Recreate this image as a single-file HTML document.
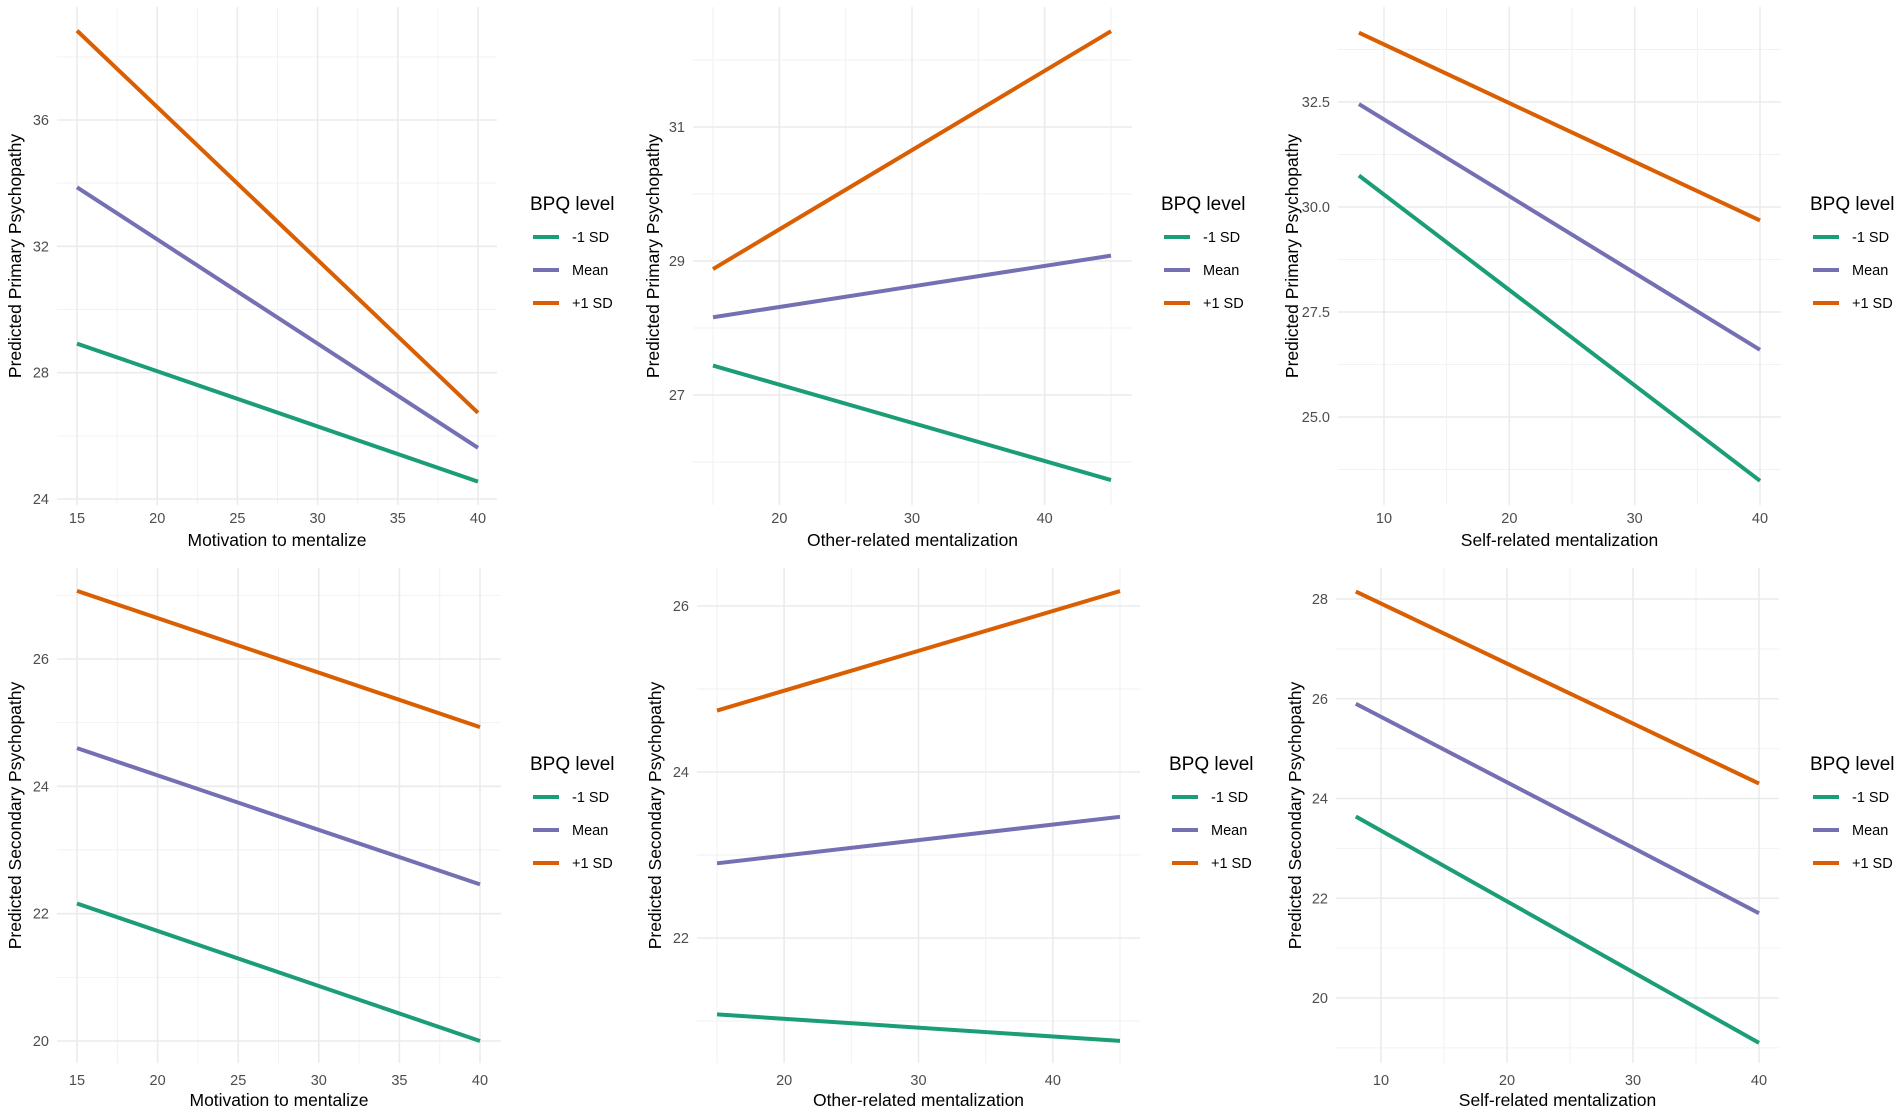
<!DOCTYPE html>
<html><head><meta charset="utf-8">
<style>
html,body{margin:0;padding:0;background:#fff;}
svg{display:block;font-family:"Liberation Sans",Arial,sans-serif;}
</style></head>
<body>
<svg id="chart" width="1902" height="1114" viewBox="0 0 1902 1114" xmlns="http://www.w3.org/2000/svg"></svg>
<script>
// ---- data ----
const seriesNames = ["-1 SD", "Mean", "+1 SD"];
const seriesColors = ["#1b9e77", "#7570b3", "#d95f02"];

const p1X = [15, 40];
const p1Low = [28.92, 24.55];
const p1Mean = [33.87, 25.62];
const p1High = [38.83, 26.73];
const p1XTicks = [15, 20, 25, 30, 35, 40];
const p1YTicks = [24, 28, 32, 36];
const p1YTickLabels = ["24", "28", "32", "36"];

const p2X = [15, 45];
const p2Low = [27.44, 25.73];
const p2Mean = [28.16, 29.08];
const p2High = [28.88, 32.43];
const p2XTicks = [20, 30, 40];
const p2YTicks = [27, 29, 31];
const p2YTickLabels = ["27", "29", "31"];

const p3X = [8, 40];
const p3Low = [30.75, 23.48];
const p3Mean = [32.45, 26.6];
const p3High = [34.15, 29.68];
const p3XTicks = [10, 20, 30, 40];
const p3YTicks = [25, 27.5, 30, 32.5];
const p3YTickLabels = ["25.0", "27.5", "30.0", "32.5"];

const p4X = [15, 40];
const p4Low = [22.16, 20.0];
const p4Mean = [24.6, 22.46];
const p4High = [27.07, 24.93];
const p4XTicks = [15, 20, 25, 30, 35, 40];
const p4YTicks = [20, 22, 24, 26];
const p4YTickLabels = ["20", "22", "24", "26"];

const p5X = [15, 45];
const p5Low = [21.08, 20.76];
const p5Mean = [22.9, 23.46];
const p5High = [24.74, 26.18];
const p5XTicks = [20, 30, 40];
const p5YTicks = [22, 24, 26];
const p5YTickLabels = ["22", "24", "26"];

const p6X = [8, 40];
const p6Low = [23.64, 19.1];
const p6Mean = [25.9, 21.7];
const p6High = [28.15, 24.3];
const p6XTicks = [10, 20, 30, 40];
const p6YTicks = [20, 22, 24, 26, 28];
const p6YTickLabels = ["20", "22", "24", "26", "28"];

// ---- layout ----
const NS = "http://www.w3.org/2000/svg";
const svg = document.getElementById("chart");
function mk(tag, attrs, parent) {
  const e = document.createElementNS(NS, tag);
  for (const k in attrs) e.setAttribute(k, attrs[k]);
  (parent || svg).appendChild(e);
  return e;
}
function linScale(d0, d1, r0, r1) { return v => r0 + (v - d0) * (r1 - r0) / (d1 - d0); }

const panels = [
  {id:"p1", X:p1X, S:[p1Low,p1Mean,p1High], xt:p1XTicks, yt:p1YTicks, ytl:p1YTickLabels,
   gx0:57, gx1:497, gy0:7, gy1:505, xs:[15,77,40,478], ys:[36,120,24,499],
   xtitle:"Motivation to mentalize", ytitle:"Predicted Primary Psychopathy", ytx:15, legx:530, legy:203, tly:518, tty:540},
  {id:"p2", X:p2X, S:[p2Low,p2Mean,p2High], xt:p2XTicks, yt:p2YTicks, ytl:p2YTickLabels,
   gx0:693, gx1:1132, gy0:7, gy1:505, xs:[15,713,45,1111], ys:[31,127,27,395],
   xtitle:"Other-related mentalization", ytitle:"Predicted Primary Psychopathy", ytx:653, legx:1161, legy:203, tly:518, tty:540},
  {id:"p3", X:p3X, S:[p3Low,p3Mean,p3High], xt:p3XTicks, yt:p3YTicks, ytl:p3YTickLabels,
   gx0:1338, gx1:1781, gy0:7, gy1:505, xs:[10,1384,40,1760], ys:[32.5,102,25,417],
   xtitle:"Self-related mentalization", ytitle:"Predicted Primary Psychopathy", ytx:1292, legx:1810, legy:203, tly:518, tty:540},
  {id:"p4", X:p4X, S:[p4Low,p4Mean,p4High], xt:p4XTicks, yt:p4YTicks, ytl:p4YTickLabels,
   gx0:57, gx1:501, gy0:568, gy1:1063, xs:[15,77,40,480], ys:[26,659,20,1041],
   xtitle:"Motivation to mentalize", ytitle:"Predicted Secondary Psychopathy", ytx:15, legx:530, legy:763, tly:1080, tty:1100},
  {id:"p5", X:p5X, S:[p5Low,p5Mean,p5High], xt:p5XTicks, yt:p5YTicks, ytl:p5YTickLabels,
   gx0:697, gx1:1140, gy0:568, gy1:1063, xs:[15,717,45,1120], ys:[26,606,22,938],
   xtitle:"Other-related mentalization", ytitle:"Predicted Secondary Psychopathy", ytx:655, legx:1169, legy:763, tly:1080, tty:1100},
  {id:"p6", X:p6X, S:[p6Low,p6Mean,p6High], xt:p6XTicks, yt:p6YTicks, ytl:p6YTickLabels,
   gx0:1336, gx1:1779, gy0:568, gy1:1063, xs:[10,1381,40,1759], ys:[28,599,20,998],
   xtitle:"Self-related mentalization", ytitle:"Predicted Secondary Psychopathy", ytx:1295, legx:1810, legy:763, tly:1080, tty:1100}
];

panels.forEach(p => {
  const g = mk("g", {});
  
  
  const x = linScale(p.xs[0], p.xs[2], p.xs[1], p.xs[3]);
  const y = linScale(p.ys[0], p.ys[2], p.ys[1], p.ys[3]);
  const xmin = x.invert ? 0 : (p.xs[0] + (p.gx0 - p.xs[1]) * (p.xs[2]-p.xs[0])/(p.xs[3]-p.xs[1]));
  const xmax = p.xs[0] + (p.gx1 - p.xs[1]) * (p.xs[2]-p.xs[0])/(p.xs[3]-p.xs[1]);
  const ymaxV = p.ys[0] + (p.gy0 - p.ys[1]) * (p.ys[2]-p.ys[0])/(p.ys[3]-p.ys[1]);
  const yminV = p.ys[0] + (p.gy1 - p.ys[1]) * (p.ys[2]-p.ys[0])/(p.ys[3]-p.ys[1]);
  const grid = mk("g", {}, g);
  
  
  // minor x gridlines
  const xstep = p.xt[1] - p.xt[0];
  for (let v = p.xt[0] - xstep/2; v <= xmax; v += xstep) {
    if (v < xmin) continue;
    mk("line", {x1:x(v), x2:x(v), y1:p.gy0, y2:p.gy1, stroke:"#f2f2f2", "stroke-width":1}, grid);
  }
  const ystep = p.yt[1] - p.yt[0];
  for (let v = p.yt[0] - ystep/2; v <= ymaxV; v += ystep) {
    if (v < yminV) continue;
    mk("line", {x1:p.gx0, x2:p.gx1, y1:y(v), y2:y(v), stroke:"#f2f2f2", "stroke-width":1}, grid);
  }
  p.xt.forEach(v => mk("line", {x1:x(v), x2:x(v), y1:p.gy0, y2:p.gy1, stroke:"#ebebeb", "stroke-width":1.6}, grid));
  p.yt.forEach(v => mk("line", {x1:p.gx0, x2:p.gx1, y1:y(v), y2:y(v), stroke:"#ebebeb", "stroke-width":1.6}, grid));
  // tick labels
  p.xt.forEach(v => {
    const t = mk("text", {x:x(v), y:p.tly + 5, "text-anchor":"middle", "font-size":14.5, fill:"#4d4d4d"}, g);
    
    
    t.textContent = String(v);
  });
  p.yt.forEach((v, i) => {
    const t = mk("text", {x:p.gx0 - 8, y:y(v) + 5, "text-anchor":"end", "font-size":14.5, fill:"#4d4d4d"}, g);
    
    
    t.textContent = p.ytl[i];
  });
  // axis titles
  const xt = mk("text", {x:(p.gx0 + p.gx1)/2, y:p.tty + 6, "text-anchor":"middle", "font-size":17.5, fill:"#000"}, g);
  
  
  xt.textContent = p.xtitle;
  const cy = (p.gy0 + p.gy1)/2;
  const yt = mk("text", {x:p.ytx + 6, y:cy, "text-anchor":"middle", "font-size":17.5, fill:"#000", transform:"rotate(-90 " + (p.ytx + 6) + " " + cy + ")"}, g);
  
  
  yt.textContent = p.ytitle;
  // series lines
  p.S.forEach((s, si) => {
    const l = mk("line", {x1:x(p.X[0]), y1:y(s[0]), x2:x(p.X[1]), y2:y(s[1]), stroke:seriesColors[si], "stroke-width":4, "stroke-linecap":"butt"}, g);
    
    
  });
  // legend
  const lg = mk("g", {}, g);
  
  
  const lt = mk("text", {x:p.legx, y:p.legy + 7, "font-size":19, fill:"#000"}, lg);
  
  
  lt.textContent = "BPQ level";
  seriesNames.forEach((n, i) => {
    const ey = p.legy + 34 + i * 33;
    const k = mk("line", {x1:p.legx + 3, x2:p.legx + 29, y1:ey, y2:ey, stroke:seriesColors[i], "stroke-width":4}, lg);
    
    
    const et = mk("text", {x:p.legx + 42, y:ey + 5, "font-size":14.5, fill:"#000"}, lg);
    
    
    et.textContent = n;
  });
});
</script>
</body></html>
